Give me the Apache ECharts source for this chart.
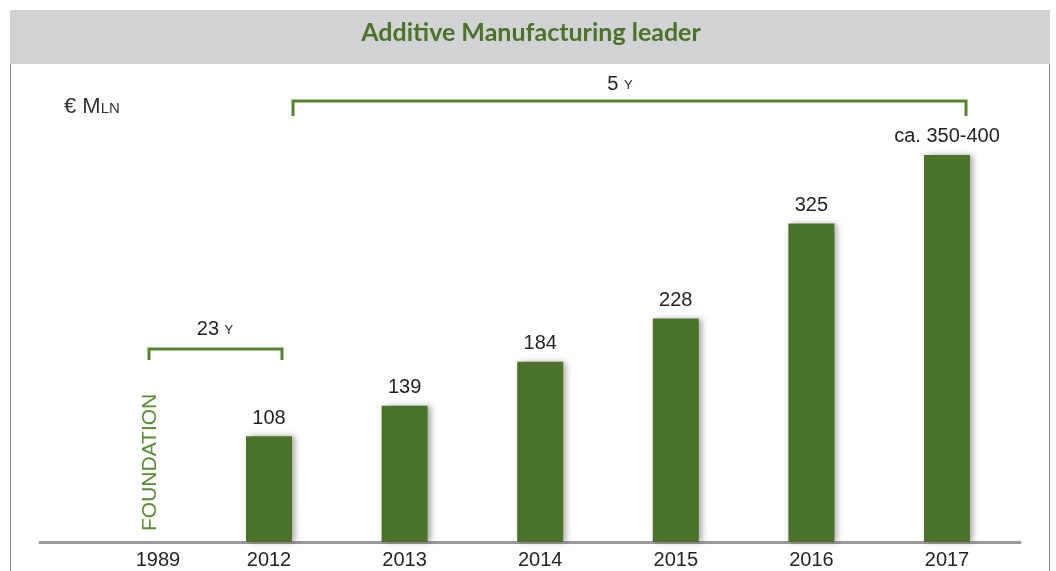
<!DOCTYPE html>
<html>
<head>
<meta charset="utf-8">
<script src="https://cdn.jsdelivr.net/npm/echarts@6/dist/echarts.min.js"></script>
<style>
html,body{margin:0;padding:0;background:#fff;}
#main{width:1056px;height:571px;}
</style>
</head>
<body>
<div id="main"></div>
<script>
const categories = ['1989', '2012', '2013', '2014', '2015', '2016', '2017'];
const values = ['-', 108, 139, 184, 228, 325, 395];
const valueLabels = ['', '108', '139', '184', '228', '325', 'ca. 350-400'];
const titleText = 'Additive Manufacturing leader';
const unitText = ['€ M', 'LN'];
const spanLabels = [['23', 'Y'], ['5', 'Y']];
const foundationText = 'FOUNDATION';

const GREEN = '#4a7329';
const BR_GREEN = '#55852f';
const TXT = '#231f20';
const FONT = 'Liberation Sans, Arial, sans-serif';

const chart = echarts.init(document.getElementById('main'), null, {renderer: 'canvas'});

function bracket(x1, x2, y, drop) {
  return {
    type: 'polyline',
    shape: {points: [[x1, y + drop], [x1, y], [x2, y], [x2, y + drop]]},
    style: {stroke: BR_GREEN, lineWidth: 3, fill: null},
    z: 10
  };
}
function spanText(parts, cx, cy) {
  return {
    type: 'text',
    x: cx, y: cy,
    style: {
      text: '{a|' + parts[0] + ' }{b|' + parts[1] + '}',
      align: 'center', verticalAlign: 'middle',
      rich: {
        a: {fontSize: 20, fontFamily: FONT, fill: TXT},
        b: {fontSize: 13, fontFamily: FONT, fill: TXT, padding: [3, 0, 0, 0]}
      }
    },
    z: 10
  };
}

const option = {
  backgroundColor: '#fff',
  animation: false,
  grid: [
    {left: 65.6, right: 41.2, top: 101, bottom: 29},
    {left: 40, right: 36, top: 500, bottom: 29}
  ],
  xAxis: [
    {
      type: 'category', gridIndex: 0, data: categories,
      axisLine: {show: false}, axisTick: {show: false},
      axisLabel: {
        fontSize: 20, fontFamily: FONT, color: TXT, margin: 8,
        formatter: function (v, i) {
          return i === 0 ? '{s|' + v + '}' : v;
        },
        rich: {s: {fontSize: 20, fontFamily: FONT, color: TXT, padding: [0, 0, 0, 49]}}
      }
    },
    {
      type: 'category', gridIndex: 1, data: [''],
      axisLine: {show: true, lineStyle: {color: '#999a9c', width: 3}},
      axisTick: {show: false}, axisLabel: {show: false}
    }
  ],
  yAxis: [
    {type: 'value', gridIndex: 0, min: 0, max: 450, show: false},
    {type: 'value', gridIndex: 1, show: false}
  ],
  series: [{
    type: 'bar', xAxisIndex: 0, yAxisIndex: 0,
    data: values,
    barWidth: 46,
    itemStyle: {
      color: GREEN,
      shadowColor: 'rgba(0,0,0,0.35)', shadowBlur: 6, shadowOffsetX: 3, shadowOffsetY: 0
    },
    label: {
      show: true, position: 'top', distance: 8,
      fontSize: 20, fontFamily: FONT, color: TXT,
      formatter: function (p) { return valueLabels[p.dataIndex]; }
    },
    z: 5
  }],
  graphic: [
    {type: 'rect', shape: {x: 10, y: 10, width: 1040, height: 54}, style: {fill: '#d1d2d4'}, z: 0},
    {type: 'line', shape: {x1: 10.5, y1: 64, x2: 10.5, y2: 571}, style: {stroke: '#8a8a8a', lineWidth: 1}},
    {type: 'line', shape: {x1: 1049.5, y1: 64, x2: 1049.5, y2: 571}, style: {stroke: '#8a8a8a', lineWidth: 1}},
    {
      type: 'text', x: 531, y: 33,
      style: {text: titleText, align: 'center', verticalAlign: 'middle',
        font: 'bold 25px Lato, sans-serif', fill: GREEN},
      z: 10
    },
    {
      type: 'text', x: 64, y: 107,
      style: {
        text: '{a|' + unitText[0] + '}{b|' + unitText[1] + '}',
        align: 'left', verticalAlign: 'middle',
        rich: {
          a: {fontSize: 22, fontFamily: FONT, fill: '#333'},
          b: {fontSize: 15, fontFamily: FONT, fill: '#333', padding: [4, 0, 0, 0]}
        }
      },
      z: 10
    },
    bracket(293, 966, 101, 15),
    spanText(spanLabels[1], 620, 84),
    bracket(149, 282, 349, 11),
    spanText(spanLabels[0], 215, 329),
    {
      type: 'text', x: 150, y: 531, rotation: Math.PI / 2,
      style: {text: foundationText, align: 'left', verticalAlign: 'middle',
        fontSize: 21, fontFamily: FONT, fill: '#5b8a37'},
      z: 10
    }
  ]
};
chart.setOption(option);
</script>
</body>
</html>
